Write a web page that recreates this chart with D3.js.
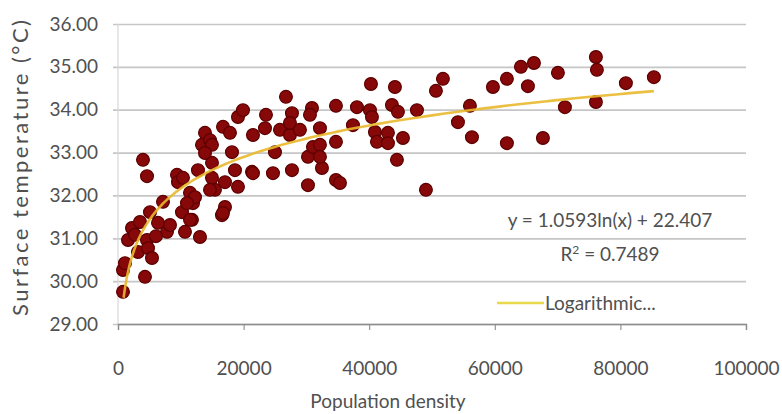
<!DOCTYPE html>
<html>
<head>
<meta charset="utf-8">
<script src="https://cdn.jsdelivr.net/npm/d3@7"></script>
<style>
  html, body { margin: 0; padding: 0; background: #fff; }
  svg { display: block; }
  text { font-family: "Lato", "Open Sans", sans-serif; fill: #505050; }
</style>
</head>
<body>
<svg id="chart" width="782" height="414"></svg>
<script>
// Population density (people per km²) for each sample
const density = [
  796, 796, 1114, 1592, 2229, 3502, 3184, 4617, 4776, 5413, 4298, 3980, 4617,
  6368, 7801, 7164, 10666, 13054, 10189, 11781, 11940, 11462, 9393, 9552,
  16557, 15442, 14965, 12736, 13373, 13850, 14647, 16716, 17830, 19104, 14965,
  18149, 18626, 21333, 14965, 17034, 19104, 14647, 12258, 10984, 11462, 17034,
  16716, 10348, 21492, 23562, 25790, 27382, 26745, 27700, 27382, 28974, 24994,
  24676, 27700, 21492, 30248, 31044, 30248, 30885, 30566, 32158, 32158, 32477,
  32158, 34706, 34706, 34706, 35342, 38049, 37412, 40278, 40118, 40437, 40914,
  41232, 42984, 42984, 44098, 43621, 44576, 45372, 44417, 47601, 49034, 50626,
  51740, 54128, 56038, 56357, 59700, 61929, 61929, 64158, 66227, 65272, 67661,
  70049, 71163, 76099, 76258, 76099, 80874, 85332, 5094, 2706, 6049, 8279,
  13850, 19900, 23403
];
// Surface temperature (°C) for the same samples
const temperature = [
  29.75, 30.26, 30.42, 30.96, 31.24, 31.38, 30.68, 30.96, 30.77, 30.54, 30.10, 32.83, 32.45,
  31.36, 31.15, 31.85, 31.15, 31.03, 31.61, 31.43, 31.82, 32.06, 32.48, 32.31,
  31.54, 32.13, 32.76, 32.59, 33.18, 33.46, 33.29, 33.60, 33.46, 33.83, 33.18,
  33.01, 32.59, 32.55, 32.41, 32.31, 32.20, 32.13, 31.96, 31.82, 31.43, 31.73,
  31.59, 32.41, 33.41, 33.88, 33.53, 33.41, 34.30, 33.92, 33.69, 33.53, 33.01,
  32.52, 32.59, 32.52, 32.90, 33.13, 32.24, 34.04, 33.88, 33.57, 33.18, 32.64,
  32.90, 34.09, 33.25, 32.36, 32.29, 34.06, 33.64, 34.60, 33.99, 33.83, 33.48,
  33.25, 33.46, 33.22, 34.53, 34.11, 33.95, 33.34, 32.83, 33.99, 32.13, 34.44,
  34.72, 33.71, 34.09, 33.36, 34.53, 34.72, 33.22, 35.00, 35.09, 34.55, 33.34,
  34.86, 34.06, 35.23, 34.93, 34.18, 34.62, 34.76, 31.61, 31.08, 31.05, 31.31,
  32.99, 33.99, 33.57
];

// Axis ticks
const xTicks = [0, 20000, 40000, 60000, 80000, 100000];
const yTicks = [29, 30, 31, 32, 33, 34, 35, 36];

// Logarithmic trendline: y = a·ln(x) + b
const trendA = 1.0593;
const trendB = 22.407;
const trendRange = [900, 85332];
const equationLabel = "y = 1.0593ln(x) + 22.407";
const r2Label = "0.7489";
const legendLabel = "Logarithmic...";
const xTitle = "Population density";
const yTitle = "Surface temperature (°C)";

const svg = d3.select("#chart");
const plotLeft = 118, plotRight = 746, plotTop = 24, plotBottom = 324;

const x = d3.scaleLinear().domain([0, 100000]).range([plotLeft, plotRight]);
const y = d3.scaleLinear().domain([29, 36]).range([plotBottom, plotTop]);

// Horizontal gridlines with short outer ticks
svg.append("g")
  .attr("transform", `translate(${plotLeft},0)`)
  .call(d3.axisLeft(y).tickValues(yTicks).tickSize(-(plotRight - plotLeft)).tickFormat(d => d.toFixed(2)).tickPadding(20))
  .call(g => g.select(".domain").remove())
  .call(g => g.selectAll(".tick line").attr("stroke", "#c6c6c6").attr("stroke-width", 1.7).attr("x1", -5))
  .call(g => g.selectAll(".tick text").attr("font-size", 19).attr("fill", "#505050")
      .style("font-family", "Lato, sans-serif"));

// Vertical axis line
svg.append("line")
  .attr("x1", plotLeft).attr("x2", plotLeft).attr("y1", plotTop).attr("y2", plotBottom)
  .attr("stroke", "#d8d8d8").attr("stroke-width", 1.2);

// Horizontal axis
svg.append("g")
  .attr("transform", `translate(0,${plotBottom})`)
  .call(d3.axisBottom(x).tickValues(xTicks).tickSize(6).tickFormat(d3.format("d")).tickPadding(0))
  .call(g => g.select(".domain").attr("stroke", "#8c8c8c").attr("stroke-width", 1.4))
  .call(g => g.selectAll(".tick line").attr("stroke", "#8c8c8c").attr("stroke-width", 1.1))
  .call(g => g.selectAll(".tick text").attr("font-size", 19).attr("fill", "#505050")
      .attr("y", 51).attr("dy", 0)
      .style("font-family", "Lato, sans-serif"));

// Data points
const pts = density.map((d, i) => ({ x: d, y: temperature[i] }));
svg.append("g")
  .selectAll("circle")
  .data(pts)
  .join("circle")
  .attr("cx", d => x(d.x))
  .attr("cy", d => y(d.y))
  .attr("r", 6.4)
  .attr("fill", "#870808")
  .attr("stroke", "#5c0000")
  .attr("stroke-width", 1.2);

// Trendline
const trendX = d3.range(0, 201).map(i => trendRange[0] * Math.pow(trendRange[1] / trendRange[0], i / 200));
const line = d3.line().x(d => x(d)).y(d => y(trendA * Math.log(d) + trendB));
svg.append("path")
  .datum(trendX)
  .attr("d", line)
  .attr("fill", "none")
  .attr("stroke", "#e9b92e")
  .attr("stroke-width", 2.6)
  .attr("opacity", 0.9);

// Equation and R²
svg.append("text")
  .attr("x", 610).attr("y", 227)
  .attr("text-anchor", "middle")
  .attr("font-size", 19).attr("fill", "#404040")
  .text(equationLabel);
const r2 = svg.append("text")
  .attr("x", 610).attr("y", 261)
  .attr("text-anchor", "middle")
  .attr("font-size", 19).attr("fill", "#404040");
r2.append("tspan").text("R");
r2.append("tspan").attr("dy", -7).attr("font-size", 12).text("2");
r2.append("tspan").attr("dy", 7).text(" = " + r2Label);

// Legend
svg.append("line")
  .attr("x1", 497).attr("x2", 544).attr("y1", 303).attr("y2", 303)
  .attr("stroke", "#e8d84a").attr("stroke-width", 2.6);
svg.append("text")
  .attr("x", 545).attr("y", 310)
  .attr("font-size", 19).attr("fill", "#404040")
  .text(legendLabel);

// Axis titles
svg.append("text")
  .attr("x", 388).attr("y", 408)
  .attr("text-anchor", "middle")
  .attr("font-size", 19).attr("fill", "#505050")
  .text(xTitle);
svg.append("text")
  .attr("transform", "translate(28,168) rotate(-90)")
  .attr("text-anchor", "middle")
  .attr("font-size", 22).attr("fill", "#505050")
  .attr("textLength", 296).attr("lengthAdjust", "spacing")
  .text(yTitle);
</script>
</body>
</html>
